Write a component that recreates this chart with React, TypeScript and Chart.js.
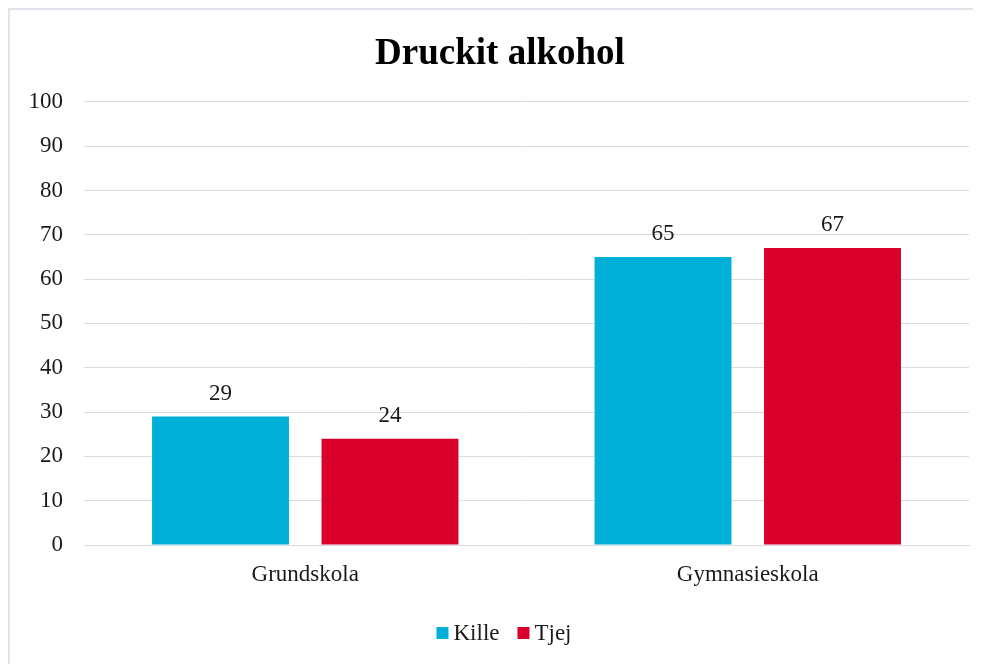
import React, { useEffect, useRef } from "react";
import { Chart, registerables } from "chart.js";

Chart.register(...registerables);

const categories = ["Grundskola", "Gymnasieskola"];
const killeValues = [29, 65];
const tjejValues = [24, 67];
const seriesNames = ["Kille", "Tjej"];
const seriesColors = ["#00B0D8", "#D9002B"];
const yTicks = [0, 10, 20, 30, 40, 50, 60, 70, 80, 90, 100];

const FONT = "'Liberation Serif', 'Times New Roman', serif";
const TEXT = "#1a1a1a";

const valueLabels = {
  id: "valueLabels",
  afterDatasetsDraw(chart: any) {
    const ctx = chart.ctx;
    ctx.save();
    ctx.font = `23px ${FONT}`;
    ctx.fillStyle = TEXT;
    ctx.textAlign = "center";
    ctx.textBaseline = "alphabetic";
    chart.data.datasets.forEach((ds: any, i: number) => {
      const meta = chart.getDatasetMeta(i);
      meta.data.forEach((bar: any, j: number) => {
        ctx.fillText(String(ds.data[j]), bar.x, bar.y - 17);
      });
    });
    ctx.restore();
  },
};

const bottomLegend = {
  id: "bottomLegend",
  afterDraw(chart: any) {
    const ctx = chart.ctx;
    ctx.save();
    ctx.font = `23px ${FONT}`;
    const box = 12;
    const gapBoxText = 5;
    const gapItems = 18;
    const items = chart.data.datasets.map((ds: any) => ({
      text: ds.label,
      color: ds.backgroundColor,
      w: ctx.measureText(ds.label).width,
    }));
    const total = items.reduce((s: number, it: any) => s + box + gapBoxText + it.w, 0) + gapItems * (items.length - 1);
    const cx = chart.width / 2 + 4;
    let x = cx - total / 2;
    const y = chart.chartArea.bottom + 88;
    ctx.textBaseline = "middle";
    ctx.textAlign = "left";
    items.forEach((it: any) => {
      ctx.fillStyle = it.color;
      ctx.fillRect(x, y - box / 2, box, box);
      x += box + gapBoxText;
      ctx.fillStyle = TEXT;
      ctx.fillText(it.text, x, y + 1);
      x += it.w + gapItems;
    });
    ctx.restore();
  },
};

export default function App() {
  const ref = useRef<HTMLCanvasElement>(null);
  useEffect(() => {
    document.documentElement.style.overflow = "hidden";
    document.body.style.overflow = "hidden";
    if (!ref.current) return;
    const chart = new Chart(ref.current, {
      type: "bar",
      data: {
        labels: categories,
        datasets: [
          { label: seriesNames[0], data: killeValues, backgroundColor: seriesColors[0], categoryPercentage: 0.766, barPercentage: 0.808 },
          { label: seriesNames[1], data: tjejValues, backgroundColor: seriesColors[1], categoryPercentage: 0.766, barPercentage: 0.808 },
        ],
      },
      options: {
        animation: false,
        responsive: true,
        maintainAspectRatio: false,
        layout: { padding: { left: 0, right: 0, top: 0, bottom: 65.4 } },
        plugins: {
          title: {
            display: true,
            text: "Druckit alkohol",
            font: { family: FONT, size: 37, weight: "bold" },
            color: "#000",
            padding: { top: 22, bottom: 25.5 },
          },
          legend: { display: false },
          tooltip: { enabled: false },
        },
        scales: {
          x: {
            grid: { display: false, drawTicks: false },
            border: { display: true, color: "#D9DDE3", width: 1 },
            ticks: { font: { family: FONT, size: 23 }, color: TEXT, padding: 16 },
          },
          y: {
            min: 0,
            max: 100,
            afterBuildTicks: (scale: any) => {
              scale.ticks = yTicks.map((v) => ({ value: v }));
            },
            afterFit: (scale: any) => {
              scale.width = 74;
            },
            grid: { color: "#D9DDE3", drawTicks: false },
            border: { display: false },
            ticks: { font: { family: FONT, size: 23 }, color: TEXT, padding: 21 },
          },
          spacer: {
            type: "linear",
            position: "right",
            display: true,
            min: 0,
            max: 100,
            afterFit: (scale: any) => {
              scale.width = 21;
            },
            grid: { display: false, drawTicks: false },
            border: { display: false },
            ticks: { display: false },
          },
        },
      },
      plugins: [valueLabels, bottomLegend],
    });
    return () => chart.destroy();
  }, []);
  return (
    <div style={{ width: 980, height: 660, border: "2px solid #E0E4EA", boxSizing: "content-box" }}>
      <canvas ref={ref} />
    </div>
  );
}
